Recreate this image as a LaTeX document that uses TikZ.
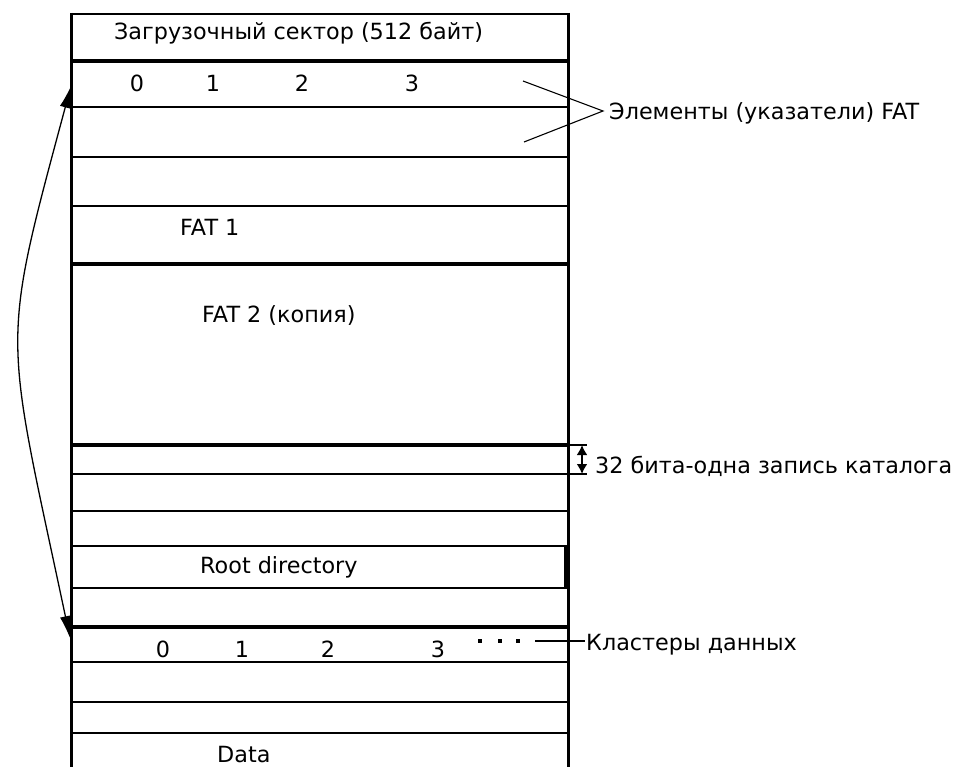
\documentclass[tikz,border=0pt]{standalone}
\usepackage{fontspec}
\setmainfont{DejaVu Sans}
\usetikzlibrary{arrows.meta}
\begin{document}
\begin{tikzpicture}[x=1pt,y=-1pt,
  lbl/.style={inner sep=0pt, font=\fontsize{22.3}{26}\selectfont},
  heavy/.style={line width=3.5pt},
  medium/.style={line width=2.3pt},
  light/.style={line width=1.4pt},
  side/.style={line width=3pt},
  pointer/.style={line width=1.1pt}]
\useasboundingbox[fill=white] (0,0) rectangle (967,767);
% outer sides
\draw[side] (71,13) -- (71,767);
\draw[side] (568,13) -- (568,767);
% horizontal separators
\foreach \y in {14,107,157,206,474,511,546,588} \draw[medium] (71,\y) -- (568,\y);
\foreach \y in {61,264,445,627} \draw[heavy] (71,\y) -- (568,\y);
\foreach \y in {662,702,733} \draw[light] (71,\y) -- (568,\y);
% root directory inner right edge
\draw[side] (565.5,546) -- (565.5,588);
% texts
\node[lbl, anchor=base west] (boot) at (114,40) {Загрузочный сектор (512 байт)};
\node[lbl, anchor=base] (f0) at (137,92) {0};
\node[lbl, anchor=base] (f1) at (213,92) {1};
\node[lbl, anchor=base] (f2) at (302,92) {2};
\node[lbl, anchor=base] (f3) at (412,92) {3};
\node[lbl, anchor=base west] (fat1) at (180,236) {FAT 1};
\node[lbl, anchor=base west] (fat2) at (202,323) {FAT 2 (копия)};
\node[lbl, anchor=base west] (root) at (200,573) {Root directory};
\node[lbl, anchor=base] (c0) at (163,657) {0};
\node[lbl, anchor=base] (c1) at (242,657) {1};
\node[lbl, anchor=base] (c2) at (328,657) {2};
\node[lbl, anchor=base] (c3) at (438,657) {3};
\node[lbl, anchor=base west] (data) at (217,762) {Data};
\node[lbl, anchor=base west] (elem) at (609,120) {Элементы (указатели) FAT};
\node[lbl, anchor=base west] (rec) at (595,473) {32 бита-одна запись каталога};
\node[lbl, anchor=base west] (clus) at (586,650) {Кластеры данных};
% FAT element pointers
\coordinate (econv) at (603,111);
\coordinate (ea) at (523,81);
\coordinate (eb) at (524,142);
\draw[pointer] (ea) -- (econv) -- (eb);
% 32-bit record marker
\coordinate (rt) at (582,445);
\coordinate (rb) at (582,474);
\draw[line width=1.5pt] (568,445) -- (587,445);
\draw[line width=1.5pt] (568,474) -- (587,474);
\draw[line width=2pt, {Latex[length=10pt,width=11pt]}-{Latex[length=10pt,width=11pt]}] (rt) -- (rb);
% clusters dots and leader
\foreach \x in {480,500,518} \fill (\x-2,639) rectangle (\x+2,643);
\coordinate (ca) at (535,641);
\coordinate (cb) at (585,641);
\draw[line width=2pt] (ca) -- (cb);
% curved double arrow
\coordinate (ftop) at (71,86);
\coordinate (fbot) at (70,638);
\draw[line width=1.3pt, {Latex[length=22pt,width=11pt]}-{Latex[length=22pt,width=11pt]}]
  (ftop) .. controls (-0.5,351.5) and (4.2,327.3) .. (fbot);
\end{tikzpicture}
\end{document}
